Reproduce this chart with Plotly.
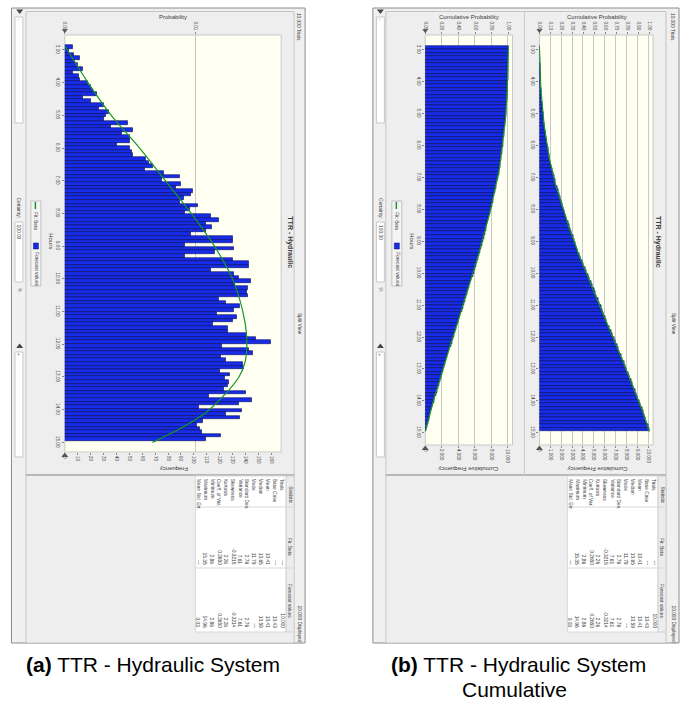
import numpy as np
import plotly.graph_objects as go

W, H = 680, 704

# ---------------- data ----------------
hours_min, hours_max = 2.86, 14.96
freq = [6, 3, 7, 12, 8, 10, 14, 6, 11, 12, 18, 20, 22, 25, 14, 20, 30, 26, 34, 32,
        30, 49, 36, 53, 44, 50, 50, 40, 50, 52, 53, 63, 65, 68, 62, 77, 89, 75, 90, 86,
        99, 98, 92, 89, 103, 97, 93, 113, 119, 109, 114, 109, 98, 130,
        130, 93, 131, 116, 93, 130, 143, 143, 113, 131, 135, 144, 132, 142, 141, 142,
        119, 125, 136, 131, 118, 133, 130, 115, 126, 126, 141, 148, 160, 122, 143, 146,
        121, 125, 138, 139, 120, 128, 124, 127, 126, 123, 140, 112, 145, 135, 104, 137,
        125, 136, 107, 102, 105, 106, 121, 109]

fit_hours = [2.88, 3.0, 4.0, 5.0, 6.0, 7.0, 8.0, 9.0, 10.0, 11.0, 11.8, 12.5, 13.0, 14.0, 14.5, 15.0]
fit_freq = [0, 2, 18, 36, 58, 78, 98, 116, 130, 138, 141, 140, 135, 112, 93, 68]

hour_ticks = list(range(3, 16))
freq_ticks = list(range(0, 170, 10))
prob_ticks = [0.0, 0.01]
rev_ticks = list(range(0, 10001, 2000))
cum_ticks = list(range(0, 10001, 1000))

stat_names = ["Trials", "Base Case", "Mean", "Median", "Mode", "Standard Dev.", "Variance",
              "Skewness", "Kurtosis", "Coeff. of Var.", "Minimum", "Maximum", "Mean Std. Err."]
fit_beta = ["---", "---", "10.41", "10.65", "11.79", "2.76", "7.61", "-0.3215", "2.26",
            "0.2650", "2.86", "15.35", "---"]
forecast_vals = ["10,000", "10.43", "10.41", "10.59", "---", "2.76", "7.61", "-0.3214", "2.26",
                 "0.2650", "2.86", "14.96", "0.03"]

# ---------------- derived bins ----------------
n_bins = len(freq)
edges = np.linspace(hours_min, hours_max, n_bins + 1)
centers = (edges[:-1] + edges[1:]) / 2
bw = edges[1] - edges[0]
freq_arr = np.array(freq)
cum = np.cumsum(freq_arr)
rev = cum[-1] - np.concatenate([[0], cum[:-1]])
total = cum[-1]

BLUE = "rgb(22,44,232)"
EDGE = "rgb(10,10,90)"
GREEN = "rgb(20,150,40)"
CREAM = "#fffff2"
PANEL = "#f0f0f0"
FONT = "Liberation Sans"
TXT = "#3a3a3a"

fig = go.Figure()


def px(x):
    return x / W


def py(y):
    return 1 - y / H


def rect(x0, y0, x1, y1, fill, line=None, lw=1):
    fig.add_shape(type="rect", xref="paper", yref="paper",
                  x0=px(x0), x1=px(x1), y0=py(y1), y1=py(y0),
                  fillcolor=fill, line=dict(color=line if line else fill, width=lw if line else 0),
                  layer="below")


def hline(x0, x1, y, color, lw=1):
    fig.add_shape(type="line", xref="paper", yref="paper", x0=px(x0), x1=px(x1),
                  y0=py(y), y1=py(y), line=dict(color=color, width=lw), layer="below")


def vline(x, y0, y1, color, lw=1):
    fig.add_shape(type="line", xref="paper", yref="paper", x0=px(x), x1=px(x),
                  y0=py(y0), y1=py(y1), line=dict(color=color, width=lw), layer="below")


def tri(x, y, down=True, s=3.5, color="#555"):
    if down:
        path = f"M {px(x-s)} {py(y-s*0.6)} L {px(x+s)} {py(y-s*0.6)} L {px(x)} {py(y+s*0.7)} Z"
    else:
        path = f"M {px(x-s)} {py(y+s*0.6)} L {px(x+s)} {py(y+s*0.6)} L {px(x)} {py(y-s*0.7)} Z"
    fig.add_shape(type="path", xref="paper", yref="paper", path=path,
                  fillcolor=color, line=dict(color=color, width=0), layer="above")


def txt(x, y, s, size=6, angle=90, xa="center", ya="middle", color=TXT, family=FONT):
    fig.add_annotation(x=px(x), y=py(y), xref="paper", yref="paper", text=s, showarrow=False,
                       textangle=angle, xanchor=xa, yanchor=ya, borderpad=0,
                       font=dict(size=size, color=color, family=family))


# ---------------- window chrome ----------------
def chrome(x0, x1, inner_left, inner_right):
    rect(x0, 8, x1, 643, PANEL, "#8c8c8c", 1)
    rect(inner_left, 11.5, inner_right, 643, "#eeeeee", "#c4c4c4", 1)
    hline(inner_left, inner_right, 475, "#b8b8b8", 2)
    # left control strip
    tri((x0 + inner_left) / 2 + 1, 11.5, down=True, color="#444")
    rect(x0 + 3.5, 17, x0 + 11.5, 123, "white", "#c8c8c8", 1)
    txt(x0 + 7.5, 20, "-", size=4.5)
    txt(x0 + 7.5, 197, "Certainty:", size=4.8, ya="top")
    rect(x0 + 3.5, 222, x0 + 11.5, 282, "white", "#c8c8c8", 1)
    txt(x0 + 7.5, 224, "100.00", size=4.8, ya="top")
    txt(x0 + 7.5, 290, "%", size=4.5, color="#777")
    tri((x0 + inner_left) / 2 + 1, 346, down=False, color="#444")
    rect(x0 + 3.5, 352, x0 + 11.5, 457, "white", "#c8c8c8", 1)
    txt(x0 + 7.5, 355, "+", size=4.5)
    # right strip texts
    txt(x1 - 6, 12, "10,000 Trials", size=4.8, ya="top")
    txt(x1 - 6, 312, "Split View", size=4.8, ya="top")
    txt(x1 - 6, 643, "10,000 Displayed", size=4.8, ya="bottom")


def legend_box(x0):
    rect(x0, 201, x0 + 10, 286, "#f4f4f4", "#c0c0c0", 1)
    vline(x0 + 4.5, 202, 209, GREEN, 1.5)
    txt(x0 + 5, 211, "Fit: Beta", size=4.8, ya="top")
    rect(x0 + 2.5, 243, x0 + 7.5, 249, BLUE, EDGE, 0.5)
    txt(x0 + 5, 251, "Forecast values", size=4.8, ya="top")


def stats_table(x_left, x_right):
    rect(x_left, 476, x_right - 8, 632, "white", "#d8d8d8", 1)
    rect(x_right - 8, 476, x_right, 632, "#ececec", "#d0d0d0", 1)
    for yy in (507, 568):
        hline(x_left, x_right, yy, "#d8d8d8", 1)
    txt(x_right - 4, 485, "Statistic", size=4.8, ya="top")
    txt(x_right - 4, 537, "Fit: Beta", size=4.8, ya="top")
    txt(x_right - 4, 583, "Forecast values", size=4.8, ya="top")
    step = 7.0
    for i, (nm, fb, fv) in enumerate(zip(stat_names, fit_beta, forecast_vals)):
        xc = x_right - 12 - i * step
        txt(xc, 478, nm, size=4.8, ya="top")
        txt(xc, 566, fb, size=4.8, ya="bottom")
        txt(xc, 629, fv, size=4.8, ya="bottom")


def plot_frame(x0, y0, x1, y1):
    rect(x0, y0, x1, y1, CREAM, "#c8c8c8", 1)


# ---------------- panel (a): frequency ----------------
chrome(9.5, 304, 24, 293)
legend_box(29)
plot_frame(63, 35, 280, 452)
stats_table(194, 293)

# ---------------- panel (b): cumulative split view ----------------
chrome(372, 679, 385, 666)
legend_box(391)
plot_frame(424.5, 35, 512, 445)
plot_frame(539, 35, 653, 445)
vline(524, 12, 475, "#c8c8c8", 1)
stats_table(567, 666)

# ---------------- traces ----------------
bar_kw = dict(orientation="h", marker=dict(color=BLUE, line=dict(color=EDGE, width=0.6)),
              width=bw, showlegend=False, hoverinfo="skip")
fig.add_trace(go.Bar(x=freq_arr, y=centers, xaxis="x", yaxis="y", **bar_kw))
fig.add_trace(go.Scatter(x=fit_freq, y=fit_hours, xaxis="x", yaxis="y", mode="lines",
                         line=dict(color=GREEN, width=1.2, shape="spline"), showlegend=False))
fig.add_trace(go.Scatter(x=[None], y=[None], xaxis="x2", yaxis="y", showlegend=False))

fig.add_trace(go.Bar(x=rev, y=centers, xaxis="x3", yaxis="y3", **bar_kw))
fig.add_trace(go.Scatter(x=np.concatenate([[total], rev[1:], [0]]), y=edges, xaxis="x3", yaxis="y3",
                         mode="lines", line=dict(color=GREEN, width=1.2), showlegend=False))
fig.add_trace(go.Scatter(x=[None], y=[None], xaxis="x4", yaxis="y3", showlegend=False))

fig.add_trace(go.Bar(x=cum, y=centers, xaxis="x5", yaxis="y5", **bar_kw))
fig.add_trace(go.Scatter(x=np.concatenate([[0], cum]), y=edges, xaxis="x5", yaxis="y5",
                         mode="lines", line=dict(color=GREEN, width=1.2), showlegend=False))
fig.add_trace(go.Scatter(x=[None], y=[None], xaxis="x6", yaxis="y5", showlegend=False))

tickfont = dict(size=4.6, color=TXT, family=FONT)
common_x = dict(tickangle=90, ticks="outside", ticklen=2, tickcolor="#888", tickfont=tickfont,
                showline=False, zeroline=False, fixedrange=True)

hour_text = [f"{h:.2f}" for h in hour_ticks]
ya_a = dict(domain=[py(452), py(35)], range=[hours_min + (452 - 45.4) / 32.7, hours_min - (45.4 - 35) / 32.7])
ya_b = dict(domain=[py(445), py(35)], range=[hours_min + (445 - 45.5) / 31.9, hours_min - (45.5 - 35) / 31.9])
common_y = dict(tickvals=hour_ticks, ticktext=hour_text, tickangle=90, ticks="outside", ticklen=2,
                tickcolor="#888", tickfont=tickfont, showgrid=False, zeroline=False, showline=False)

fmax_a = 160 * (280 - 63) / (270 - 63)
rmax = 10000 * (512 - 424.5) / (507 - 424.5)
cmax = 10000 * (653 - 539) / (648 - 539)

fig.update_layout(
    width=W, height=H, margin=dict(l=0, r=0, t=0, b=0),
    paper_bgcolor="white", plot_bgcolor="rgba(0,0,0,0)", bargap=0, showlegend=False,
    xaxis=dict(domain=[px(63), px(280)], anchor="y", range=[0, fmax_a], tickvals=freq_ticks,
               showgrid=False, **common_x),
    xaxis2=dict(overlaying="x", anchor="y", side="top", range=[0, fmax_a / total],
                tickvals=prob_ticks, ticktext=["0.00", "0.01"], showgrid=True,
                gridcolor="#c8c8c8", gridwidth=1, **common_x),
    yaxis=dict(anchor="x", **ya_a, **common_y),
    xaxis3=dict(domain=[px(424.5), px(512)], anchor="y3", range=[0, rmax], tickvals=rev_ticks,
                tickformat=",d", showgrid=True, gridcolor="#c8c8c8", **common_x),
    xaxis4=dict(overlaying="x3", anchor="y3", side="top", range=[0, rmax / total],
                tickvals=[t / 10000 for t in rev_ticks], tickformat=".2f", showgrid=False, **common_x),
    yaxis3=dict(anchor="x3", **ya_b, **common_y),
    xaxis5=dict(domain=[px(539), px(653)], anchor="y5", range=[0, cmax], tickvals=cum_ticks,
                tickformat=",d", showgrid=True, gridcolor="#c8c8c8", **common_x),
    xaxis6=dict(overlaying="x5", anchor="y5", side="top", range=[0, cmax / total],
                tickvals=[t / 10000 for t in cum_ticks], tickformat=".2f", showgrid=False, **common_x),
    yaxis5=dict(anchor="x5", **ya_b, **common_y),
)

# axis titles and chart titles
txt(172, 17, "Probability", size=6, angle=0)
txt(172, 469, "Frequency", size=6, angle=180)
txt(49, 241, "Hours", size=6)
txt(288.5, 242, "<b>TTR - Hydraulic</b>", size=7)

txt(468, 17, "Cumulative Probability", size=6, angle=0)
txt(468, 469, "Cumulative Frequency", size=6, angle=180)
txt(597, 17, "Cumulative Probability", size=6, angle=0)
txt(597, 469, "Cumulative Frequency", size=6, angle=180)
txt(411, 241, "Hours", size=6)
txt(658, 242, "<b>TTR - Hydraulic</b>", size=7)

# certainty grabbers
for gx, gtop, gbot in ((63, 31, 455), (424.5, 31, 448), (539, 31, 448)):
    tri(gx, gtop, down=True, s=3, color="#555")
    tri(gx, gbot, down=False, s=3.5, color="#555")

# captions
txt(151, 664, "<b>(a)</b> TTR - Hydraulic System", size=21, angle=0, color="black")
txt(518, 664, "<b>(b)</b> TTR - Hydraulic System", size=21, angle=0, color="black")
txt(514, 689, "Cumulative", size=21, angle=0, color="black")

fig.write_html("out.html")
